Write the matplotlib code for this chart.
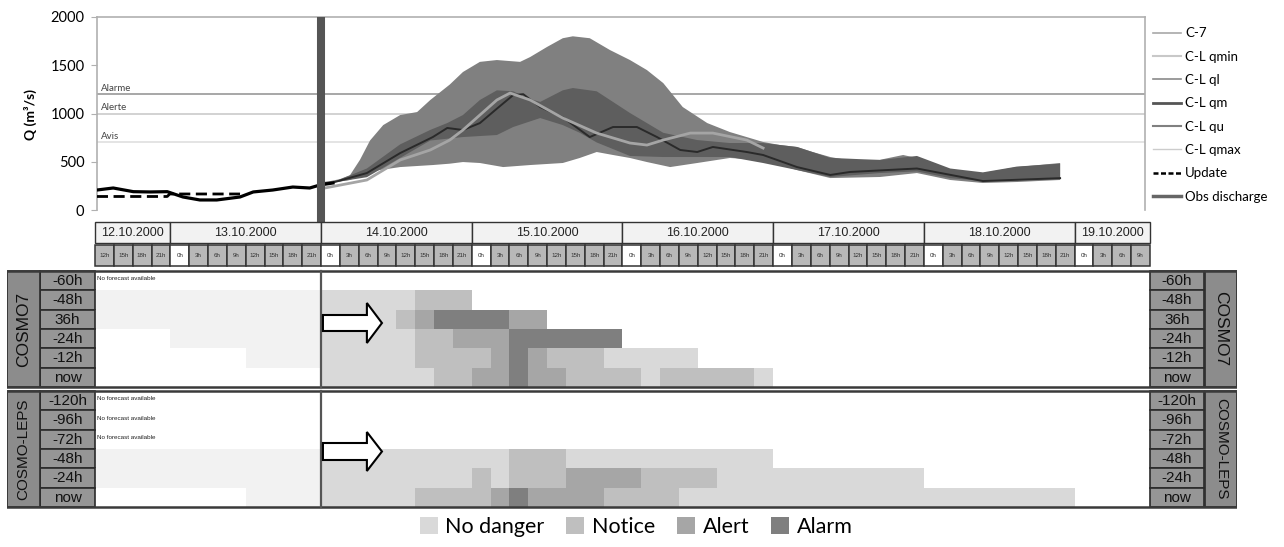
import matplotlib.pyplot as plt
import numpy as np
from matplotlib.lines import Line2D
from matplotlib.patches import Patch, FancyArrow

plt.rcParams['font.family'] = ['Lato', 'DejaVu Sans']
GRIDFONT = ['Liberation Sans', 'DejaVu Sans']

# ---- discharge data (time = hours since 12.10.2000 00:00, Q in m3/s) ----
obs_t = [12.3, 14.9, 18.1, 20.8, 23.5, 26.0, 28.7, 31.4, 35.1, 37.2, 40.3, 43.5, 46.2, 47.8, 49.9]
obs_q = [207, 228, 190, 187, 190, 135, 104, 104, 135, 187, 207, 238, 228, 259, 280]

upd_t = [12.3, 23.5, 23.9, 35.1]
upd_q = [140, 140, 166, 166]

qmax_t = [48, 51, 52.6, 54.2, 55.8, 57.9, 60.6, 63.3, 65.4, 68.5, 70.6, 73.3, 76, 79.7, 81.3, 84,
          86.5, 88.1, 90.8, 94, 97.2, 99.9, 102.5, 105.6, 109.5, 113.1, 118.4, 121.1, 123.8, 126.3,
          129.1, 131.8, 137, 140.7, 142.9, 148.2, 153.4, 158.8, 165.7]
qmax_q = [280, 320, 360, 520, 720, 880, 984, 1015, 1140, 1300, 1430, 1535, 1554, 1535, 1585, 1690,
          1780, 1800, 1780, 1658, 1554, 1450, 1315, 1067, 901, 808, 705, 673, 653, 601,
          549, 518, 520, 570, 539, 414, 383, 445, 487]

qmin_t = [48, 51, 52.6, 55.3, 60.6, 65.8, 68.5, 70.6, 73.3, 77, 81.3, 86.5, 89.2, 91.9, 94.5, 97.2,
          99.9, 103.6, 107.9, 113.1, 118.4, 123.8, 129.1, 137, 142.9, 148.2, 153.4, 158.8, 165.7]
qmin_q = [280, 295, 311, 394, 445, 466, 480, 497, 487, 445, 466, 487, 539, 601, 570, 539,
          497, 445, 487, 539, 518, 414, 331, 342, 383, 311, 280, 290, 311]

qu_t = [50, 55.3, 60.6, 65.4, 68.1, 70.6, 73.3, 76, 78.6, 81.3, 82.9, 86.5, 88.1, 91.9, 97.2,
        102.5, 107.9, 113.1, 118.4, 123.8, 129.1, 137, 142.9, 148.2, 153.4, 158.8, 165.7]
qu_q = [290, 430, 680, 830, 901, 984, 1140, 1240, 1230, 1150, 1120, 1240, 1264, 1230, 1005,
        800, 725, 694, 694, 653, 540, 518, 560, 430, 390, 450, 480]

ql_t = [50, 55.3, 60.6, 65.4, 70.6, 76, 78.6, 82.9, 86.5, 89.2, 91.9, 97.2, 102.5, 107.9,
        113.1, 118.4, 123.8, 129.1, 137, 142.9, 148.2, 153.4, 158.8, 165.7]
ql_q = [285, 340, 540, 720, 756, 777, 860, 953, 880, 800, 700, 560, 549, 549,
        549, 487, 414, 342, 383, 400, 330, 300, 310, 320]

qm_t = [48, 49.9, 55.3, 60.6, 65.8, 68.1, 70.6, 73.3, 76, 78.6, 80.2, 82.9, 86.5, 90.8, 94.5,
        98.3, 101.5, 105.2, 107.9, 110.4, 115.8, 118.4, 123.8, 129.1, 132.2, 142.9, 153.4, 165.7]
qm_q = [280, 285, 383, 590, 756, 850, 829, 901, 1050, 1191, 1200, 1067, 960, 756, 860,
        860, 756, 622, 601, 653, 601, 570, 445, 363, 394, 430, 300, 330]

c7_t = [48.6, 55.3, 60.6, 65.4, 68.5, 70.6, 76, 78.1, 81.3, 86.5, 91.9, 97.2, 99.9, 102.5,
        106.8, 110.4, 115.8, 118.4]
c7_q = [228, 311, 518, 622, 725, 829, 1140, 1212, 1140, 953, 797, 694, 673, 725,
        797, 797, 725, 642]

thresholds = [1200, 1000, 700]
threshold_names = ['Alarme', 'Alerte', 'Avis']

# ---- warning grid (run-length: (level, number of 3h cells) from 12.10 12h) ----
# 0 none, 1 past, 2 no danger, 3 notice, 4 alert, 5 alarm
day_labels = ['12.10.2000', '13.10.2000', '14.10.2000', '15.10.2000',
              '16.10.2000', '17.10.2000', '18.10.2000', '19.10.2000']
day_start = [12, 24, 48, 72, 96, 120, 144, 168]
day_end = [24, 48, 72, 96, 120, 144, 168, 180]

cosmo7_leads = ['-60h', '-48h', '36h', '-24h', '-12h', 'now']
cosmo7_rows = [
    [(0, 56)],
    [(1, 12), (2, 5), (3, 3), (0, 36)],
    [(1, 12), (2, 4), (3, 1), (4, 1), (5, 4), (4, 2), (0, 32)],
    [(0, 4), (1, 8), (2, 5), (3, 2), (4, 3), (5, 6), (0, 28)],
    [(0, 8), (1, 4), (2, 5), (3, 4), (4, 1), (5, 1), (4, 1), (3, 3), (2, 5), (0, 24)],
    [(0, 12), (2, 6), (3, 2), (4, 2), (5, 1), (4, 2), (3, 4), (2, 1), (3, 5), (2, 1), (0, 20)],
]
cosmo7_nofc = [0]

leps_leads = ['-120h', '-96h', '-72h', '-48h', '-24h', 'now']
leps_rows = [
    [(0, 56)],
    [(0, 56)],
    [(0, 56)],
    [(1, 12), (2, 10), (3, 3), (2, 11), (0, 20)],
    [(1, 12), (2, 8), (3, 1), (2, 1), (3, 3), (4, 4), (3, 4), (2, 11), (0, 12)],
    [(0, 8), (1, 4), (2, 5), (3, 4), (4, 1), (5, 1), (4, 4), (3, 4), (2, 21), (0, 4)],
]
leps_nofc = [0, 1, 2]

level_names = ['No danger', 'Notice', 'Alert', 'Alarm']
level_colors = {1: '#f2f2f2', 2: '#d9d9d9', 3: '#bfbfbf', 4: '#a6a6a6', 5: '#7f7f7f'}

# ---- layout helpers (pixel positions on the 1284x547 canvas) ----
W, H = 1284, 547
fig = plt.figure(figsize=(W / 100, H / 100), dpi=100)


def px_axes(x0, y0, x1, y1):
    return fig.add_axes([x0 / W, 1 - y1 / H, (x1 - x0) / W, (y1 - y0) / H])


def t_of(x):
    # header: 12.10 12h at x=95, one day = 150.7 px
    return 12 + (x - 95) * 24 / 150.7


# ================= discharge plot =================
ax = px_axes(97, 17, 1145, 210)
ax.set_xlim(t_of(97), t_of(1145))
ax.set_ylim(0, 2000)
for s in ['top', 'right', 'left']:
    ax.spines[s].set_color('#b0b0b0')
    ax.spines[s].set_linewidth(1.2)
ax.spines['bottom'].set_visible(False)
ax.set_xticks([])
ax.set_yticks([0, 500, 1000, 1500, 2000])
ax.tick_params(axis='y', length=4, color='#b0b0b0', labelsize=10.5, pad=5)

thr_colors = ['#a0a0a0', '#cfcfcf', '#e2e2e2']
for q, name, c in zip(thresholds, threshold_names, thr_colors):
    ax.axhline(q, color=c, lw=1.3, zorder=1)
    ax.text(t_of(101), q + 12, name, fontsize=7, color='#444444', va='bottom', ha='left')

ax.fill(np.r_[qmax_t, qmin_t[::-1]], np.r_[qmax_q, qmin_q[::-1]], color='#808080', lw=0, zorder=2)
ax.fill(np.r_[qu_t, ql_t[::-1]], np.r_[qu_q, ql_q[::-1]], color='#5e5e5e', lw=0, zorder=3)
ax.plot(qm_t, qm_q, color='#2a2a2a', lw=1.4, zorder=4)
ax.plot(c7_t, c7_q, color='#a5a5a5', lw=2, zorder=5)
ax.plot(obs_t, obs_q, color='black', lw=2.3, zorder=6)
ax.plot(upd_t, upd_q, color='black', lw=2, dashes=(4, 2), zorder=6)
ax.plot([48, 48], [2000, -125], color='#555555', lw=5.8, solid_capstyle='butt',
        clip_on=False, zorder=7)

fig.text(30 / W, 1 - 115 / H, 'Q (m³/s)', rotation=90, ha='center', va='center',
         fontsize=10, fontweight='bold')

handles = [
    Line2D([], [], color='#a8a8a8', lw=1.2),
    Line2D([], [], color='#c8c8c8', lw=1.5),
    Line2D([], [], color='#8a8a8a', lw=1.2),
    Line2D([], [], color='#555555', lw=2),
    Line2D([], [], color='#808080', lw=1.5),
    Line2D([], [], color='#cccccc', lw=1),
    Line2D([], [], color='black', lw=1.8, dashes=(2, 1)),
    Line2D([], [], color='#666666', lw=2.5),
]
labels = ['C-7', 'C-L qmin', 'C-L ql', 'C-L qm', 'C-L qu', 'C-L qmax', 'Update', 'Obs discharge']
fig.legend(handles, labels, loc='upper left', bbox_to_anchor=(1148 / W, 1 - 22 / H),
           frameon=False, fontsize=9.5, labelspacing=0.86, handlelength=2.1,
           handletextpad=0.3, borderaxespad=0)

# ================= header + warning grid =================
bx = px_axes(7, 220, 1237, 510)
bx.set_xlim(t_of(7), t_of(1237))
bx.set_ylim(510, 220)
bx.axis('off')

# date row
for lab, t0, t1 in zip(day_labels, day_start, day_end):
    bx.barh(232.5, t1 - t0, left=t0, height=21, color='#f2f2f2', edgecolor='#333333', lw=1)
    bx.text((t0 + t1) / 2, 233, lab, ha='center', va='center', fontsize=9,
            color='#222222', family=GRIDFONT)

# hour row
for k in range(56):
    t0 = 12 + 3 * k
    hr = t0 % 24
    bx.barh(255, 3, left=t0, height=21, color='white' if hr == 0 else '#b8b8b8',
            edgecolor='#333333', lw=1.1)
    bx.text(t0 + 1.5, 255.5, f'{hr}h', ha='center', va='center', fontsize=4.5,
            color='#333333', family=GRIDFONT)


def draw_block(top, leads, rows, nofc, name, name_size):
    rh = 116 / 6
    for i, (lead, runs) in enumerate(zip(leads, rows)):
        yc = top + rh * (i + 0.5)
        k = 0
        for code, n in runs:
            if code:
                bx.barh(yc, 3 * n, left=12 + 3 * k, height=rh, color=level_colors[code], lw=0)
            k += n
        if i in nofc:
            bx.text(t_of(97), yc - 2, 'No forecast available', fontsize=4.5,
                    va='center', ha='left', color='#222222', family=GRIDFONT)
        for t0, t1 in [(t_of(40), 12), (180, t_of(1204))]:
            bx.barh(yc, t1 - t0, left=t0, height=rh, color='#969696',
                    edgecolor='#2b2b2b', lw=1.2)
            bx.text((t0 + t1) / 2, yc + 0.5, lead, ha='center', va='center',
                    fontsize=11, color='#111111', family=GRIDFONT)
    bottom = top + 116
    for t0, t1, rot in [(t_of(7), t_of(40), 90), (t_of(1205), t_of(1237), 270)]:
        bx.barh((top + bottom) / 2, t1 - t0, left=t0, height=116, color='#8c8c8c',
                edgecolor='#2b2b2b', lw=1.2)
        bx.text((t0 + t1) / 2, (top + bottom) / 2, name, rotation=rot, ha='center',
                va='center', fontsize=name_size, color='#111111', family=GRIDFONT)
    for y in (top, bottom):
        bx.plot([t_of(7), t_of(1237)], [y, y], color='#3a3a3a', lw=1.8)
    bx.plot([48, 48], [top, bottom], color='#555555', lw=1.6)


draw_block(271, cosmo7_leads, cosmo7_rows, cosmo7_nofc, 'COSMO7', 12.5)
draw_block(391, leps_leads, leps_rows, leps_nofc, 'COSMO-LEPS', 11)

# outlined arrows
for yc, w, hw in [(323, 16, 40), (451.5, 17, 39)]:
    bx.add_patch(FancyArrow(48.3, yc, 9.4, 0, width=w, head_width=hw, head_length=2.4,
                            length_includes_head=True, facecolor='white',
                            edgecolor='black', lw=1.5, zorder=5))

# bottom legend
lev_handles = [Patch(facecolor=level_colors[c], edgecolor='none') for c in (2, 3, 4, 5)]
fig.legend(lev_handles, level_names, loc='center', bbox_to_anchor=(636 / W, 1 - 527 / H),
           ncol=4, frameon=False, fontsize=15.5, handlelength=0.85, handleheight=0.85,
           handletextpad=0.35, columnspacing=1.0, borderaxespad=0)

fig.savefig('out.png', dpi=100)
